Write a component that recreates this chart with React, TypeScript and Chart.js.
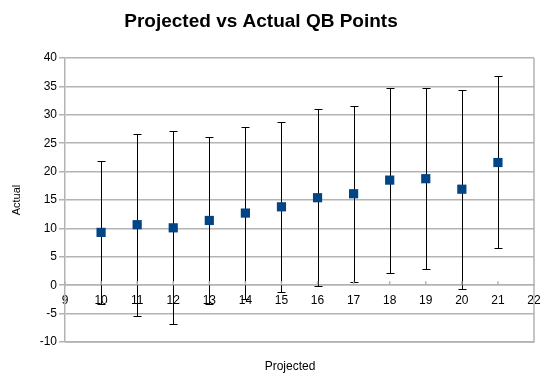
import React, { useEffect, useRef } from "react";
import { Chart, registerables } from "chart.js";

Chart.register(...registerables);

const projected = [10, 11, 12, 13, 14, 15, 16, 17, 18, 19, 20, 21];
const actualMean = [9.3, 10.65, 10.1, 11.4, 12.7, 13.8, 15.4, 16.1, 18.5, 18.75, 16.9, 21.6];
const errUpper = [21.9, 26.7, 27.1, 26.1, 27.85, 28.8, 31.0, 31.6, 34.8, 34.7, 34.4, 36.8];
const errLower = [-3.3, -5.35, -6.9, -3.3, -2.45, -1.25, -0.2, 0.6, 2.15, 2.8, -0.7, 6.5];

const TITLE = "Projected vs Actual QB Points";
const X_TITLE = "Projected";
const Y_TITLE = "Actual";

const FONT = "'Liberation Sans', Arial, sans-serif";
const GRID = "#b3b3b3";

const errorBarPlugin = {
  id: "errorBars",
  beforeDatasetsDraw(chart: any) {
    const { ctx, scales } = chart;
    const xs = scales.x;
    const ys = scales.y;
    ctx.save();
    ctx.strokeStyle = "#000";
    ctx.lineWidth = 1;
    for (let i = 0; i < projected.length; i++) {
      const x = Math.round(xs.getPixelForValue(projected[i])) + 0.5;
      const yTop = Math.round(ys.getPixelForValue(errUpper[i])) + 0.5;
      const yBot = Math.round(ys.getPixelForValue(errLower[i])) + 0.5;
      ctx.beginPath();
      ctx.moveTo(x, yTop);
      ctx.lineTo(x, yBot);
      ctx.moveTo(x - 4, yTop);
      ctx.lineTo(x + 4, yTop);
      ctx.moveTo(x - 4, yBot);
      ctx.lineTo(x + 4, yBot);
      ctx.stroke();
    }
    ctx.restore();
  },
};

const framePlugin = {
  id: "frame",
  beforeDraw(chart: any) {
    const { ctx } = chart;
    ctx.save();
    ctx.fillStyle = "#fff";
    ctx.fillRect(0, 0, chart.width, chart.height);
    ctx.restore();
  },
  beforeDatasetsDraw(chart: any) {
    const { ctx, chartArea, scales } = chart;
    const xs = scales.x;
    const y0 = scales.y.getPixelForValue(0);
    ctx.save();
    ctx.strokeStyle = GRID;
    ctx.lineWidth = 1.5;
    ctx.beginPath();
    ctx.moveTo(chartArea.right, chartArea.top);
    ctx.lineTo(chartArea.right, chartArea.bottom);
    ctx.lineTo(chartArea.left, chartArea.bottom);
    for (let v = xs.min; v <= xs.max; v++) {
      const x = xs.getPixelForValue(v);
      ctx.moveTo(x, y0);
      ctx.lineTo(x, y0 - 4);
    }
    ctx.stroke();
    ctx.restore();
  },
  afterDraw(chart: any) {
    const { ctx, chartArea } = chart;
    ctx.save();
    ctx.fillStyle = "#000";
    ctx.font = `12px ${FONT}`;
    ctx.textAlign = "center";
    ctx.textBaseline = "middle";
    ctx.fillText(X_TITLE, chartArea.left + 225, chartArea.bottom + 25);
    ctx.font = `bold 19px ${FONT}`;
    ctx.fillText(TITLE, 261, 22);
    ctx.restore();
  },
};

export default function App() {
  const ref = useRef<HTMLCanvasElement | null>(null);
  useEffect(() => {
    if (!ref.current) return;
    const chart = new Chart(ref.current, {
      type: "scatter",
      data: {
        datasets: [
          {
            label: "Actual",
            data: projected.map((p, i) => ({ x: p, y: actualMean[i] })),
            backgroundColor: "#004586",
            borderColor: "#004586",
            pointStyle: "rect",
            pointRadius: 6.5,
            pointHoverRadius: 6.5,
            borderWidth: 0,
          },
        ],
      },
      options: {
        responsive: false,
        animation: false,
        events: [],
        layout: { padding: { top: 58, left: 6, right: 18, bottom: 40 } },
        plugins: {
          legend: { display: false },
          tooltip: { enabled: false },
          title: { display: false },
        },
        scales: {
          x: {
            type: "linear",
            position: { y: 0 },
            min: 9,
            max: 22,
            ticks: {
              stepSize: 1,
              color: "#000",
              font: { family: FONT, size: 12 },
              padding: 8,
            },
            grid: {
              display: true,
              drawOnChartArea: false,
              drawTicks: false,
              color: GRID,
            },
            border: { display: true, color: GRID, width: 1.5 },
          },
          y: {
            type: "linear",
            min: -10,
            max: 40,
            afterFit: (scale: any) => {
              scale.width = 59;
            },
            ticks: {
              stepSize: 5,
              color: "#000",
              font: { family: FONT, size: 12 },
              padding: 2,
            },
            grid: {
              color: GRID,
              lineWidth: 1.5,
              tickLength: 6,
            },
            border: { display: true, color: GRID, width: 1.5 },
            title: {
              display: true,
              text: Y_TITLE,
              color: "#000",
              font: { family: FONT, size: 11 },
              padding: { top: 4, bottom: 0 },
            },
          },
        },
      },
      plugins: [errorBarPlugin, framePlugin],
    } as any);
    return () => chart.destroy();
  }, []);
  return (
    <div style={{ position: "fixed", left: 0, top: 0, width: 552, height: 382, background: "#fff" }}>
      <canvas ref={ref} width={552} height={382} style={{ display: "block" }} />
    </div>
  );
}
